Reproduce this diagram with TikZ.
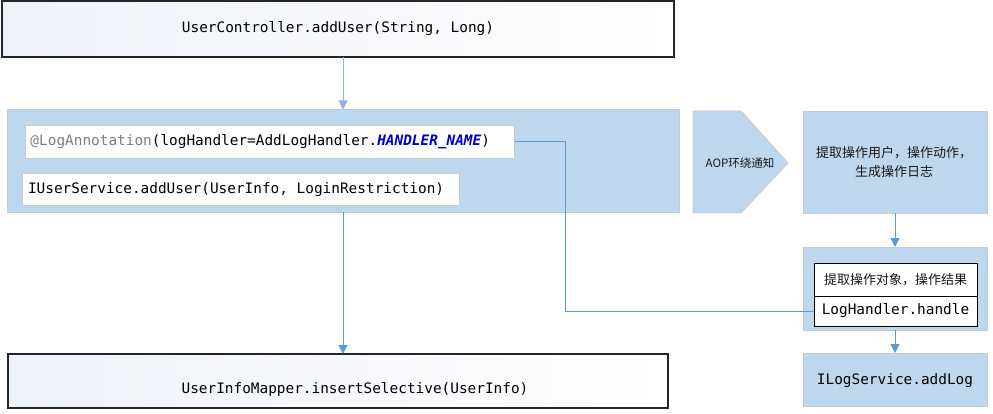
\documentclass[tikz,border=0pt]{standalone}
\usepackage{fontspec}
\setmonofont{DejaVu Sans Mono}
\newfontfamily\cjk{Noto Sans CJK SC}
\usetikzlibrary{arrows.meta,calc}
\definecolor{bfill}{HTML}{BDD7EE}
\definecolor{bline}{HTML}{5B9BD5}
\definecolor{barrow}{HTML}{8DB4E2}
\definecolor{sgray}{HTML}{C6CBD1}
\definecolor{kwblue}{HTML}{0000C0}
\definecolor{annogray}{HTML}{808080}
\definecolor{gstart}{HTML}{EDF1F8}
\begin{document}
\begin{tikzpicture}[x=1pt,y=-1pt,
  every node/.style={inner sep=0pt, outer sep=0pt},
  whitebox/.style={draw=black!85, line width=1.2pt, left color=gstart, right color=white, rectangle, anchor=north west},
  bluebox/.style={draw=sgray, line width=0.8pt, fill=bfill, rectangle, anchor=north west},
  innerbox/.style={draw=sgray, line width=0.8pt, fill=white, rectangle, anchor=north west},
  handbox/.style={draw=black, line width=1pt, fill=white, rectangle, anchor=north west},
  code/.style={font=\ttfamily\fontsize{14.4}{16}\selectfont, text=black},
  zh/.style={font=\cjk\fontsize{13}{18.5}\selectfont, text=black!90, align=center},
  arr/.style={-{Triangle[width=9pt,length=9pt]}, line width=1pt, draw=#1},
  arr/.default=bline,
  link/.style={line width=1pt, draw=bline}]
\useasboundingbox (0,0) rectangle (993,414);

% left column
\node[whitebox, minimum width=672, minimum height=56] (top) at (2,1) {};
\node[code] (toptxt) at (top.center) {UserController.addUser(String, Long)};

\node[bluebox, minimum width=672, minimum height=103] (big) at (7,109.5) {};
\node[innerbox, minimum width=489, minimum height=33] (anno) at (25.5,125) {};
\node[code, anchor=west] (annotxt) at ($(anno.west)+(5,0)$) {{\color{annogray}@LogAnnotation}(logHandler=AddLogHandler.{\color{kwblue}\bfseries\itshape HANDLER\_NAME})};
\node[innerbox, minimum width=437, minimum height=32.5] (svc) at (22,173) {};
\node[code, anchor=west] (svctxt) at ($(svc.west)+(6,0)$) {IUserService.addUser(UserInfo, LoginRestriction)};

\node[whitebox, minimum width=660, minimum height=54] (mapper) at (8,354) {};
\node[code] (mappertxt) at (355,389) {UserInfoMapper.insertSelective(UserInfo)};

\coordinate (colx) at (343,0);
\draw[arr=barrow] (top.south -| colx) -- (big.north -| colx);
\draw[arr] (big.south -| colx) -- (mapper.north -| colx);

% right column
\draw[draw=sgray, line width=0.8pt, fill=bfill] (693,111) -- (741,111) -- (788,163) -- (741,213) -- (693,213) -- cycle;
\node[font=\cjk\fontsize{11.5}{13}\selectfont, text=black!90] (aop) at (740,163) {AOP环绕通知};

\node[bluebox, minimum width=184, minimum height=102] (logbox) at (803,111) {};
\node[zh] (logtxt) at (894,162) {提取操作用户，操作动作，\\生成操作日志};

\node[bluebox, minimum width=184, minimum height=83] (hbox) at (803,247) {};
\node[handbox, minimum width=163, minimum height=33] (hA) at (814,263) {};
\node[handbox, minimum width=163, minimum height=30] (hB) at (814,296) {};
\node[zh] (hAtxt) at (hA.center) {提取操作对象，操作结果};
\node[code] (hBtxt) at (hB.center) {LogHandler.handle};

\node[bluebox, minimum width=184, minimum height=53] (ilog) at (803,353) {};
\node[code] (ilogtxt) at (895,381) {ILogService.addLog};

\coordinate (hx) at (895,0);
\draw[arr] (logbox.south -| hx) -- (hbox.north -| hx);
\draw[arr] (hbox.south -| hx) -- (ilog.north -| hx);

\coordinate (bendx) at (565,0);
\draw[link] (anno.east) -- (anno.east -| bendx) |- (hB.west);
\end{tikzpicture}
\end{document}
